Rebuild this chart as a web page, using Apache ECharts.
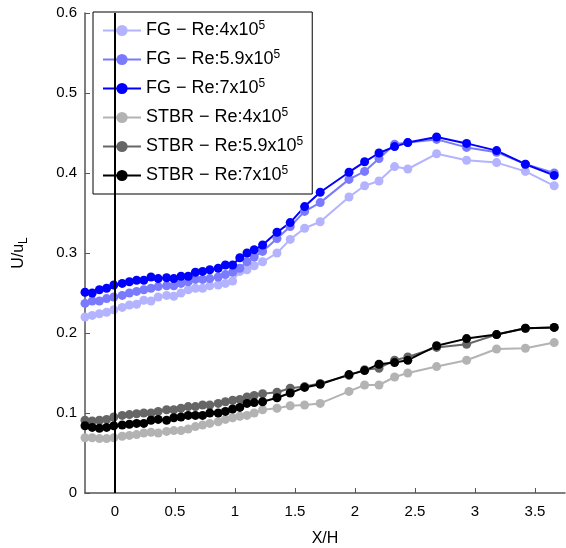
<!DOCTYPE html>
<html>
<head>
<meta charset="utf-8">
<script src="https://cdn.jsdelivr.net/npm/echarts@6/dist/echarts.min.js"></script>
<style>
  html, body { margin: 0; padding: 0; background: #fff; }
  #draw_area { width: 566px; height: 548px; }
</style>
</head>
<body>
<div id="draw_area"></div>
<script>
"use strict";

// X/H positions of the measurement points
var xPos = [-0.25, -0.19, -0.13, -0.07, -0.01, 0.06, 0.12, 0.18, 0.24, 0.30, 0.36, 0.43, 0.49,
    0.55, 0.61, 0.67, 0.73, 0.79, 0.86, 0.92, 0.98, 1.04, 1.10, 1.16, 1.23,
    1.35, 1.46, 1.58, 1.71, 1.95, 2.08, 2.20, 2.33, 2.44, 2.68, 2.93, 3.18, 3.42, 3.66];

var seriesNames = ['FG − Re:4x10^5', 'FG − Re:5.9x10^5', 'FG − Re:7x10^5',
    'STBR − Re:4x10^5', 'STBR − Re:5.9x10^5', 'STBR − Re:7x10^5'];

var fg4 = [0.220, 0.222, 0.224, 0.226, 0.229, 0.232, 0.235, 0.236, 0.241, 0.240, 0.245, 0.247, 0.246,
    0.250, 0.254, 0.256, 0.256, 0.259, 0.260, 0.262, 0.265, 0.277, 0.279, 0.284, 0.289,
    0.300, 0.317, 0.331, 0.339, 0.370, 0.384, 0.390, 0.408, 0.405, 0.424, 0.416, 0.413, 0.402, 0.384];
var fg59 = [0.237, 0.240, 0.240, 0.243, 0.245, 0.247, 0.250, 0.252, 0.254, 0.256, 0.258, 0.259, 0.259,
    0.262, 0.264, 0.267, 0.267, 0.268, 0.270, 0.273, 0.276, 0.281, 0.289, 0.295, 0.302,
    0.318, 0.333, 0.352, 0.363, 0.392, 0.402, 0.418, 0.436, 0.438, 0.442, 0.432, 0.426, 0.411, 0.400];
var fg7 = [0.251, 0.250, 0.254, 0.256, 0.260, 0.262, 0.264, 0.266, 0.266, 0.270, 0.268, 0.269, 0.268,
    0.271, 0.271, 0.276, 0.277, 0.279, 0.281, 0.285, 0.285, 0.294, 0.300, 0.304, 0.310,
    0.326, 0.338, 0.358, 0.376, 0.401, 0.414, 0.425, 0.433, 0.438, 0.445, 0.437, 0.428, 0.411, 0.397];
var stbr4 = [0.069, 0.069, 0.068, 0.068, 0.069, 0.071, 0.072, 0.073, 0.075, 0.076, 0.075, 0.077, 0.078,
    0.078, 0.080, 0.083, 0.085, 0.087, 0.089, 0.092, 0.094, 0.096, 0.097, 0.100, 0.104,
    0.106, 0.109, 0.110, 0.112, 0.127, 0.135, 0.135, 0.145, 0.150, 0.158, 0.166, 0.180, 0.181, 0.188];
var stbr59 = [0.091, 0.090, 0.091, 0.092, 0.095, 0.097, 0.098, 0.099, 0.100, 0.100, 0.102, 0.104, 0.104,
    0.106, 0.108, 0.108, 0.110, 0.110, 0.112, 0.114, 0.116, 0.117, 0.120, 0.122, 0.124,
    0.126, 0.131, 0.133, 0.137, 0.147, 0.154, 0.156, 0.166, 0.170, 0.182, 0.186, 0.198, 0.206, 0.207];
var stbr7 = [0.084, 0.082, 0.081, 0.082, 0.084, 0.085, 0.086, 0.087, 0.087, 0.091, 0.092, 0.091, 0.094,
    0.095, 0.097, 0.097, 0.097, 0.100, 0.100, 0.102, 0.105, 0.107, 0.112, 0.113, 0.114,
    0.119, 0.125, 0.132, 0.136, 0.148, 0.153, 0.161, 0.163, 0.166, 0.184, 0.193, 0.198, 0.206, 0.207];

var xTicks = [0, 0.5, 1, 1.5, 2, 2.5, 3, 3.5];
var colors = ['#b3b3ff', '#7a7aff', '#0000ff', '#b3b3b3', '#666666', '#000000'];

var allValues = [fg4, fg59, fg7, stbr4, stbr59, stbr7];

var FONT = 'Liberation Sans';

var series_list = allValues.map(function (vals, i) {
    var s = {
        name: seriesNames[i],
        type: 'line',
        data: xPos.map(function (x, j) { return [x, vals[j]]; }),
        symbol: 'circle',
        symbolSize: 9,
        showSymbol: true,
        lineStyle: { width: 2, color: colors[i] },
        itemStyle: { color: colors[i] },
        emphasis: { disabled: true }
    };
    return s;
});

// vertical line at X/H = 0
series_list[0].markLine = {
    silent: true,
    symbol: ['none', 'none'],
    label: { show: false },
    lineStyle: { color: '#000', width: 2, type: 'solid' },
    data: [{ xAxis: 0 }]
};

const option = {
    animation: false,
    backgroundColor: '#fff',
    grid: { left: 85, right: 1, top: 13, bottom: 55, outerBoundsMode: 'none' },
    legend: {
        orient: 'vertical',
        left: 93,
        top: 12,
        padding: [8, 9, 8, 9],
        itemGap: 8,
        itemWidth: 38,
        itemHeight: 14,
        backgroundColor: '#fff',
        borderColor: '#000',
        borderWidth: 1,
        borderRadius: 0,
        data: seriesNames,
        formatter: function (name) {
            var p = name.split('^');
            return '{b|' + p[0] + '}{s|' + p[1] + '}';
        },
        textStyle: {
            rich: {
                b: { fontFamily: FONT, fontSize: 18, color: '#000', lineHeight: 15 },
                s: { fontFamily: FONT, fontSize: 12, color: '#000', lineHeight: 15, padding: [0, 0, 9, 0] }
            }
        }
    },
    xAxis: {
        type: 'value',
        min: -0.25,
        max: 3.75,
        name: 'X/H',
        nameLocation: 'middle',
        nameGap: 38,
        nameTextStyle: { fontFamily: FONT, fontSize: 16, color: '#000' },
        splitLine: { show: false },
        axisLine: { show: true, onZero: false, lineStyle: { color: '#555', width: 1.5 } },
        axisTick: { show: true, inside: true, length: 5, customValues: xTicks, lineStyle: { color: '#555' } },
        axisLabel: { customValues: xTicks, fontFamily: FONT, fontSize: 15, color: '#000', margin: 11 }
    },
    yAxis: {
        type: 'value',
        min: 0,
        max: 0.6,
        interval: 0.1,
        name: '{a|U/u}{l|L}',
        nameLocation: 'middle',
        nameRotate: 90,
        nameGap: 55,
        nameTextStyle: {
            rich: {
                a: { fontFamily: FONT, fontSize: 16, color: '#000' },
                l: { fontFamily: FONT, fontSize: 12, color: '#000', padding: [10, 0, 0, 0] }
            }
        },
        splitLine: { show: false },
        axisLine: { show: true, onZero: false, lineStyle: { color: '#555', width: 1.5 } },
        axisTick: { show: true, inside: true, length: 5, lineStyle: { color: '#555' } },
        axisLabel: { fontFamily: FONT, fontSize: 15, color: '#000', margin: 8 }
    },
    series: series_list
};

var chart_object = echarts.init(document.getElementById('draw_area'), null, { renderer: 'canvas' });
chart_object.setOption(option);
</script>
</body>
</html>
